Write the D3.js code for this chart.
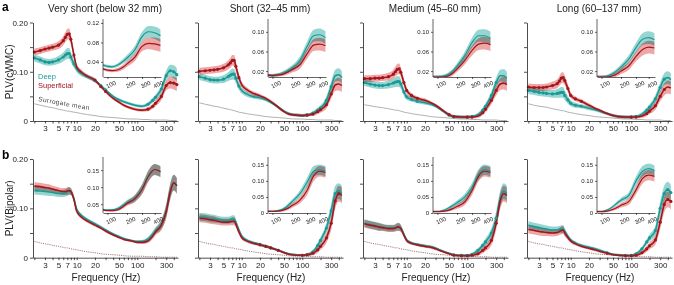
<!DOCTYPE html>
<html>
<head>
<meta charset="utf-8">
<script src="https://cdn.jsdelivr.net/npm/d3@7"></script>
<style>
  body { margin: 0; background: #fff; }
  svg { font-family: "Liberation Sans", Arial, sans-serif; }
</style>
</head>
<body>
<svg id="chart" width="674" height="285"></svg>
<script>
const freqs = [2, 2.5, 3, 3.5, 4, 5, 6, 6.5, 7, 7.5, 8, 9, 10, 12, 15, 20, 25, 30, 40, 50, 60, 80, 100, 120, 150, 180, 200, 250, 300, 350, 400, 450];

const titles = ["Very short (below 32 mm)", "Short (32\u201345 mm)", "Medium (45\u201360 mm)", "Long (60\u2013137 mm)"];
const xTickLabels = [3, 5, 7, 10, 20, 50, 100, 300];
const insetTicks = [100, 200, 300, 400];

// row a : PLV(cWMC)
const deepA1 = [.128,.124,.120,.119,.120,.124,.130,.134,.137,.137,.130,.116,.105,.096,.090,.082,.072,.063,.050,.043,.039,.034,.031,.030,.034,.042,.048,.065,.092,.102,.100,.094];
const supA1  = [.140,.143,.146,.148,.150,.154,.163,.170,.176,.177,.166,.134,.110,.099,.091,.083,.070,.060,.046,.038,.032,.026,.023,.022,.024,.030,.036,.050,.072,.078,.077,.074];
const surA1  = [.035,.032,.030,.028,.027,.024,.022,.021,.020,.020,.019,.018,.017,.015,.013,.011,.009,.008,.007,.006,.005,.004,.004,.003,.003,.002,.002,.002,.002,.001,.001,.001];
const deepA2 = [.090,.087,.084,.083,.083,.085,.090,.093,.095,.095,.087,.071,.062,.055,.050,.047,.043,.038,.028,.020,.015,.012,.011,.012,.016,.022,.026,.042,.070,.092,.094,.088];
const supA2  = [.101,.102,.103,.104,.105,.108,.114,.118,.123,.123,.111,.088,.074,.064,.057,.051,.046,.040,.028,.019,.014,.012,.011,.012,.014,.019,.023,.033,.055,.073,.075,.072];
const surA2  = [.037,.034,.032,.030,.029,.026,.024,.023,.022,.021,.020,.018,.017,.015,.013,.011,.009,.008,.007,.006,.005,.004,.004,.003,.003,.002,.002,.002,.002,.001,.001,.001];
const deepA3 = [.078,.075,.073,.072,.072,.074,.077,.079,.080,.080,.075,.059,.049,.044,.040,.037,.034,.030,.020,.012,.009,.008,.008,.009,.013,.022,.030,.052,.078,.092,.092,.087];
const supA3  = [.086,.086,.087,.087,.088,.090,.095,.100,.105,.106,.099,.078,.062,.052,.046,.042,.037,.032,.021,.013,.009,.008,.008,.008,.010,.017,.024,.042,.062,.075,.077,.074];
const surA3  = [.033,.031,.029,.028,.027,.025,.023,.022,.022,.021,.020,.018,.017,.015,.013,.011,.009,.008,.007,.006,.005,.004,.004,.003,.003,.002,.002,.002,.002,.001,.001,.001];
const deepA4 = [.062,.060,.058,.057,.056,.055,.056,.057,.058,.058,.052,.043,.036,.032,.030,.026,.023,.020,.015,.011,.009,.008,.008,.009,.014,.022,.028,.045,.068,.085,.088,.084];
const supA4  = [.069,.068,.068,.068,.069,.072,.076,.081,.087,.088,.082,.066,.052,.045,.040,.032,.026,.022,.015,.011,.009,.008,.008,.008,.010,.015,.020,.031,.050,.064,.069,.067];
const surA4  = [.035,.032,.030,.029,.028,.025,.023,.022,.021,.021,.020,.018,.017,.015,.013,.011,.009,.008,.007,.006,.005,.004,.004,.003,.003,.002,.002,.002,.002,.001,.001,.001];
const ciA    = [.007,.007,.007,.007,.007,.008,.009,.010,.011,.011,.010,.008,.006,.005,.004,.004,.003,.003,.003,.003,.003,.003,.003,.003,.004,.005,.006,.008,.010,.012,.013,.013];

// row b : PLV(Bipolar)
const deepB1 = [.136,.135,.134,.133,.132,.130,.130,.131,.133,.135,.134,.120,.098,.086,.077,.069,.062,.056,.048,.043,.039,.035,.033,.033,.038,.048,.055,.068,.095,.135,.152,.145];
const supB1  = [.145,.144,.142,.141,.139,.136,.134,.134,.135,.136,.134,.118,.094,.082,.074,.066,.060,.054,.046,.041,.037,.034,.031,.031,.034,.044,.052,.066,.093,.133,.152,.146];
const deepB2 = [.083,.082,.080,.079,.078,.076,.076,.077,.078,.078,.072,.056,.044,.036,.031,.027,.023,.020,.015,.011,.008,.006,.005,.006,.012,.025,.035,.060,.095,.130,.135,.130];
const supB2  = [.080,.079,.077,.076,.074,.072,.072,.073,.074,.074,.068,.052,.041,.034,.030,.026,.023,.020,.015,.010,.007,.005,.005,.006,.009,.016,.023,.040,.070,.115,.130,.126];
const deepB3 = [.070,.067,.065,.063,.062,.060,.060,.061,.063,.063,.060,.047,.036,.030,.027,.024,.022,.019,.013,.009,.006,.005,.005,.007,.015,.025,.032,.050,.080,.120,.135,.130];
const supB3  = [.069,.066,.064,.062,.061,.059,.059,.060,.062,.062,.059,.046,.035,.029,.026,.023,.021,.018,.012,.008,.005,.004,.004,.005,.008,.015,.020,.035,.070,.115,.130,.126];
const deepB4 = [.066,.063,.061,.059,.058,.056,.056,.057,.058,.058,.052,.043,.036,.030,.025,.021,.018,.015,.010,.007,.006,.005,.005,.008,.018,.032,.040,.055,.100,.130,.138,.132];
const supB4  = [.057,.055,.053,.052,.051,.050,.051,.053,.055,.056,.050,.041,.034,.028,.023,.019,.016,.013,.009,.006,.005,.004,.004,.005,.010,.018,.024,.036,.072,.108,.118,.114];
const surB   = [.033,.030,.028,.027,.025,.023,.021,.020,.020,.019,.018,.017,.016,.014,.012,.010,.008,.007,.006,.005,.004,.003,.003,.003,.002,.002,.002,.001,.001,.001,.001,.001];
const ciB    = [.008,.008,.008,.008,.007,.007,.007,.007,.008,.008,.007,.005,.004,.003,.003,.003,.003,.003,.002,.002,.002,.002,.002,.003,.004,.006,.007,.010,.014,.016,.016,.016];

// frequency ranges with significant deep/superficial differences (marked with dots)
const sigA = [[[2, 9], [20, 30], [150, 450]], [[2, 9], [120, 300]], [[2, 15], [50, 60], [100, 120], [180, 300]], [[2, 15], [100, 120], [180, 350]]];
const sigB = [[], [[20, 40], [100, 400]], [[60, 120], [150, 300]], [[40, 40], [80, 450]]];

const colDeep = "#1b9a95", colSup = "#a3161c";
const bandDeep = "#97d5d1", bandSup = "#eea6a6";

const svg = d3.select("#chart");
const lefts = [33, 198, 363, 527];
const panelW = 145;

const rows = [
  {deep: [deepA1, deepA2, deepA3, deepA4], sup: [supA1, supA2, supA3, supA4], sur: [surA1, surA2, surA3, surA4],
   ci: ciA, sig: sigA, y0: 121, y1: 22.5, label: "PLV(cWMC)", dotted: false,
   inset: {top: 22, bottom: 77, domains: [[0.009, 0.122], [0.008, 0.12], [0.008, 0.12], [0.008, 0.12]],
           ticks: [[0.04, 0.08, 0.12], [0.02, 0.06, 0.10], [0.02, 0.06, 0.10], [0.02, 0.06, 0.10]]}},
  {deep: [deepB1, deepB2, deepB3, deepB4], sup: [supB1, supB2, supB3, supB4], sur: [surB, surB, surB, surB],
   ci: ciB, sig: sigB, y0: 257.7, y1: 159, label: "PLV(Bipolar)", dotted: true,
   inset: {top: 160, bottom: 213, domains: [[0.024, 0.18], [0, 0.165], [0, 0.165], [0, 0.165]],
           ticks: [[0.05, 0.10, 0.15], [0, 0.05, 0.10, 0.15], [0, 0.05, 0.10, 0.15], [0, 0.05, 0.10, 0.15]]}}
];

const fmt = d => d === 0 ? "0" : d3.format(".2f")(d);

function isSig(f, ranges) {
  return ranges.some(r => f >= r[0] && f <= r[1]);
}

function drawCurves(g, x, y, deep, sup, ci, sig, withDots, lw) {
  const pts = (vals) => freqs.map((f, i) => ({f: f, v: vals[i], c: ci[i]})).filter(d => d.f >= x.domain()[0] * 0.95);
  const area = d3.area().x(d => x(d.f)).y0(d => y(d.v - d.c)).y1(d => y(d.v + d.c)).curve(d3.curveMonotoneX);
  const line = d3.line().x(d => x(d.f)).y(d => y(d.v)).curve(d3.curveMonotoneX);

  g.append("path").datum(pts(deep)).attr("d", area).attr("fill", bandDeep).style("mix-blend-mode", "multiply");
  g.append("path").datum(pts(sup)).attr("d", area).attr("fill", bandSup).style("mix-blend-mode", "multiply");
  g.append("path").datum(pts(deep)).attr("d", line).attr("fill", "none").attr("stroke", colDeep).attr("stroke-width", lw);
  g.append("path").datum(pts(sup)).attr("d", line).attr("fill", "none").attr("stroke", colSup).attr("stroke-width", lw);

  if (withDots) {
    [[deep, colDeep], [sup, colSup]].forEach(([vals, col]) => {
      g.selectAll(null)
        .data(pts(vals).filter(d => isSig(d.f, sig)))
        .join("circle")
        .attr("cx", d => x(d.f))
        .attr("cy", d => y(d.v))
        .attr("r", 1.6)
        .attr("fill", col);
    });
  }
}

rows.forEach((row, r) => {
  const y = d3.scaleLinear().domain([0, 0.2]).range([row.y0, row.y1]);

  // row y label
  svg.append("text")
    .attr("transform", "translate(13," + ((row.y0 + row.y1) / 2) + ") rotate(-90)")
    .attr("text-anchor", "middle")
    .attr("font-size", 10)
    .attr("fill", "#222")
    .text(row.label);

  lefts.forEach((left, p) => {
    const x = d3.scaleLog().domain([1.9, 470]).range([left, left + panelW]);
    const g = svg.append("g");

    // surrogate mean
    const sur = freqs.map((f, i) => ({f: f, v: row.sur[p][i]}));
    g.append("path").datum(sur)
      .attr("d", d3.line().x(d => x(d.f)).y(d => y(d.v)).curve(d3.curveMonotoneX))
      .attr("fill", "none")
      .attr("stroke", row.dotted ? "#a07c80" : "#a8a8a8")
      .attr("stroke-width", row.dotted ? 1 : 0.9)
      .attr("stroke-dasharray", row.dotted ? "1.2,1" : null);

    drawCurves(g, x, y, row.deep[p], row.sup[p], row.ci, row.sig[p], true, 1.6);

    // axes
    const xAxis = d3.axisBottom(x)
      .tickValues([2,3,4,5,6,7,8,9,10,20,30,40,50,60,70,80,90,100,200,300,400])
      .tickFormat(d => xTickLabels.includes(d) ? d : "")
      .tickSize(2.5).tickSizeOuter(0).tickPadding(2);
    const gx = svg.append("g").attr("transform", "translate(0," + row.y0 + ")").call(xAxis);
    gx.attr("font-family", null);
    gx.selectAll("text").attr("font-size", 8).attr("fill", "#222");

    const yAxis = d3.axisLeft(y)
      .tickValues([0, 0.05, 0.1, 0.15, 0.2])
      .tickFormat(d => (p === 0 && (d === 0 || d === 0.1 || d === 0.2)) ? fmt(d) : "")
      .tickSize(3).tickSizeOuter(0).tickPadding(2);
    const gy = svg.append("g").attr("transform", "translate(" + left + ",0)").call(yAxis);
    gy.attr("font-family", null);
    gy.selectAll("text").attr("font-size", 8).attr("fill", "#222");
    [gx, gy].forEach(a => a.selectAll("path,line").attr("stroke", "#222").attr("stroke-width", 0.8));

    if (r === 0) {
      svg.append("text")
        .attr("x", left + 72).attr("y", 12)
        .attr("text-anchor", "middle")
        .attr("font-size", 10)
        .attr("fill", "#222")
        .text(titles[p]);
    } else {
      svg.append("text")
        .attr("x", left + 73).attr("y", 281)
        .attr("text-anchor", "middle")
        .attr("font-size", 10)
        .attr("fill", "#222")
        .text("Frequency (Hz)");
    }

    // inset: zoom on the high frequency range
    const ins = row.inset;
    const ix = d3.scaleSqrt().domain([82, 455]).range([left + 70, left + 128]);
    const iy = d3.scaleLinear().domain(ins.domains[p]).range([ins.bottom, ins.top]);
    const clipId = "clip" + r + "_" + p;
    svg.append("clipPath").attr("id", clipId)
      .append("rect").attr("x", left + 70).attr("y", ins.top - 4).attr("width", 62).attr("height", ins.bottom - ins.top + 4);
    const gi = svg.append("g").attr("clip-path", "url(#" + clipId + ")");
    drawCurves(gi, ix, iy, row.deep[p], row.sup[p], row.ci, [], false, 1.2);

    const gix = svg.append("g").attr("transform", "translate(0," + ins.bottom + ")")
      .call(d3.axisBottom(ix).tickValues(insetTicks).tickFormat(d3.format("d")).tickSize(2).tickSizeOuter(0));
    gix.attr("font-family", null);
    gix.selectAll("text")
      .attr("font-size", 6).attr("fill", "#222")
      .attr("text-anchor", "middle")
      .attr("transform", "translate(0,1) rotate(-25)");
    const giy = svg.append("g").attr("transform", "translate(" + (left + 70) + ",0)")
      .call(d3.axisLeft(iy).tickValues(ins.ticks[p]).tickFormat(fmt).tickSize(2).tickSizeOuter(0).tickPadding(2));
    giy.attr("font-family", null);
    giy.selectAll("text").attr("font-size", 6).attr("fill", "#222");
    [gix, giy].forEach(a => a.selectAll("path,line").attr("stroke", "#222").attr("stroke-width", 0.7));
    giy.select(".domain").attr("d", "M-0," + (ins.top - 3) + "V" + ins.bottom);
  });
});

// panel letters
svg.append("text").attr("x", 2).attr("y", 11).attr("font-size", 12).attr("font-weight", "bold").text("a");
svg.append("text").attr("x", 2).attr("y", 159).attr("font-size", 12).attr("font-weight", "bold").text("b");

// legend and annotation in the first panel
svg.append("text").attr("x", 38).attr("y", 79).attr("font-size", 7.5).attr("fill", colDeep).text("Deep");
svg.append("text").attr("x", 38).attr("y", 88).attr("font-size", 7.5).attr("fill", colSup).text("Superficial");
svg.append("text")
  .attr("transform", "translate(38,101) rotate(10)")
  .attr("font-size", 6.5)
  .attr("fill", "#444")
  .attr("letter-spacing", 0.4)
  .text("Surrogate  mean");
</script>
</body>
</html>
